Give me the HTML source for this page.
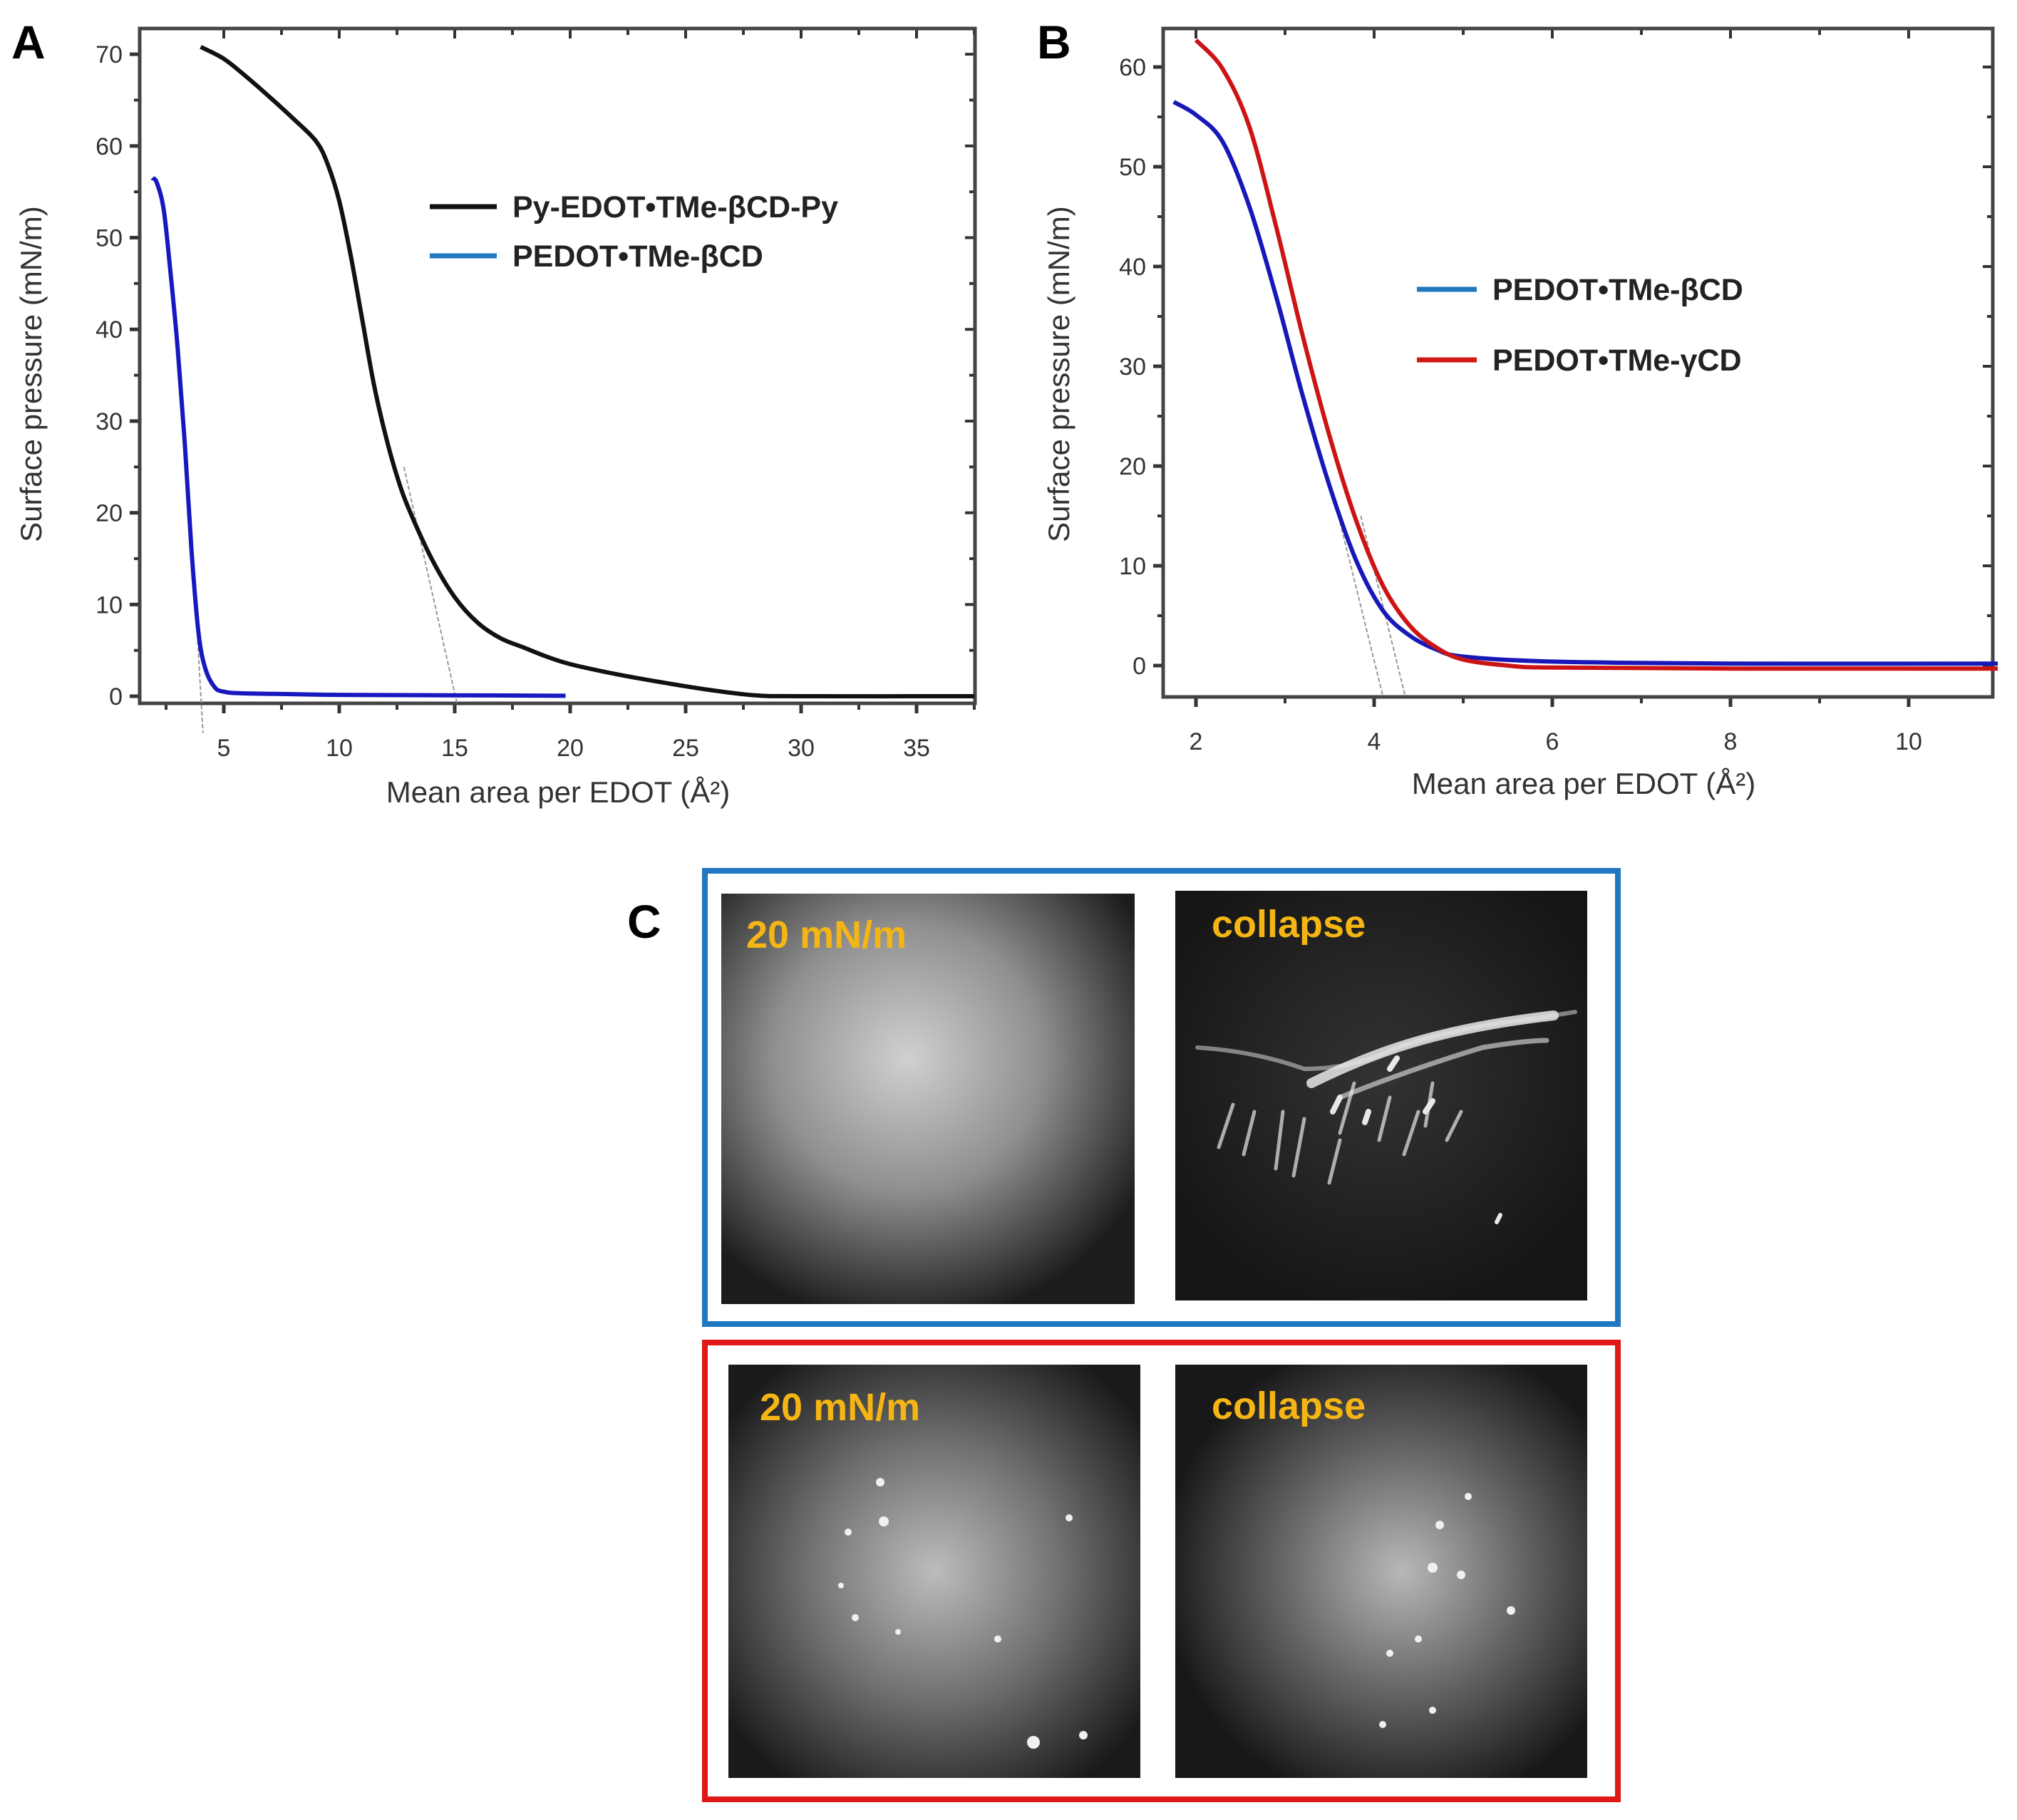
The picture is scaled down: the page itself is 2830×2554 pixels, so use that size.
<!DOCTYPE html>
<html><head><meta charset="utf-8">
<style>
html,body{margin:0;padding:0;background:#fff;}
svg{display:block;font-family:"Liberation Sans",Arial,sans-serif;}
</style></head>
<body>
<svg id="fig" width="2830" height="2554" viewBox="0 0 2830 2554" xmlns="http://www.w3.org/2000/svg">
<defs>
<radialGradient id="g1" cx="0.45" cy="0.4" r="0.65"><stop offset="0" stop-color="#d0d0d0"/><stop offset="0.5" stop-color="#8f8f8f"/><stop offset="1" stop-color="#1c1c1c"/></radialGradient>
<radialGradient id="g2" cx="0.5" cy="0.45" r="0.6"><stop offset="0" stop-color="#333"/><stop offset="1" stop-color="#151515"/></radialGradient>
<radialGradient id="g3" cx="0.5" cy="0.5" r="0.62"><stop offset="0" stop-color="#bcbcbc"/><stop offset="0.5" stop-color="#707070"/><stop offset="1" stop-color="#1a1a1a"/></radialGradient>
<radialGradient id="g4" cx="0.55" cy="0.5" r="0.58"><stop offset="0" stop-color="#b8b8b8"/><stop offset="0.5" stop-color="#666"/><stop offset="1" stop-color="#181818"/></radialGradient>
</defs>
<g id="panelA"></g>
<g id="panelB"></g>
<text x="16" y="82" font-size="66" font-weight="bold">A</text>
<text x="1455" y="82" font-size="66" font-weight="bold">B</text>
<text x="880" y="1316" font-size="66" font-weight="bold">C</text>

<g>
<rect x="989" y="1222" width="1281" height="636" fill="none" stroke="#1f78c0" stroke-width="8"/>
<rect x="989" y="1884" width="1281" height="641" fill="none" stroke="#e01818" stroke-width="8"/>
<rect x="1012" y="1254" width="580" height="576" fill="url(#g1)"/>
<rect x="1649" y="1250" width="578" height="575" fill="url(#g2)"/>
<g stroke="#e8e8e8" stroke-linecap="round" fill="none">
<path d="M1680 1470 Q1760 1475 1830 1500 Q1900 1500 1960 1470 Q2050 1440 2150 1430 Q2180 1425 2210 1420" stroke-width="6" opacity="0.5"/>
<path d="M1840 1520 Q1900 1490 1960 1470 Q2050 1440 2180 1425" stroke-width="14" opacity="0.85"/>
<path d="M1880 1540 Q1980 1500 2080 1470 Q2140 1460 2170 1460" stroke-width="7" opacity="0.6"/>
<path d="M1730 1550 L1710 1610 M1760 1560 L1745 1620 M1800 1560 L1790 1640 M1830 1570 L1815 1650 M1880 1600 L1865 1660 M1900 1520 L1880 1590 M1950 1540 L1935 1600 M1990 1560 L1970 1620 M2010 1520 L2000 1580 M2050 1560 L2030 1600" stroke-width="5" opacity="0.7"/>
<path d="M1880 1540 L1870 1560 M1920 1560 L1915 1575 M1950 1500 L1960 1485 M2000 1560 L2010 1545" stroke-width="8"/>
<path d="M2100 1715 L2105 1705" stroke-width="6"/>
</g>
<rect x="1022" y="1915" width="578" height="580" fill="url(#g3)"/>
<rect x="1649" y="1915" width="578" height="580" fill="url(#g4)"/>
<g fill="#f0f0f0">
<circle cx="1235" cy="2080" r="6"/><circle cx="1190" cy="2150" r="5"/><circle cx="1240" cy="2135" r="7"/><circle cx="1200" cy="2270" r="5"/><circle cx="1450" cy="2445" r="9"/><circle cx="1520" cy="2435" r="6"/><circle cx="1500" cy="2130" r="5"/><circle cx="1400" cy="2300" r="5"/><circle cx="1180" cy="2225" r="4"/><circle cx="1260" cy="2290" r="4"/>
<circle cx="2020" cy="2140" r="6"/><circle cx="2010" cy="2200" r="7"/><circle cx="2120" cy="2260" r="6"/><circle cx="1950" cy="2320" r="5"/><circle cx="1940" cy="2420" r="5"/><circle cx="2010" cy="2400" r="5"/><circle cx="1990" cy="2300" r="5"/><circle cx="2050" cy="2210" r="6"/><circle cx="2060" cy="2100" r="5"/>
</g>
<g font-size="54" font-weight="bold" fill="#f5b514">
<text x="1047" y="1330">20 mN/m</text>
<text x="1700" y="1315">collapse</text>
<text x="1066" y="1993">20 mN/m</text>
<text x="1700" y="1991">collapse</text>
</g>
</g>
</svg>
<script>
// Panel A data
const aBlackX=[4,5,6,7,8,9,9.5,10,10.5,11,11.5,12,12.5,13,14,15,16,17,18,19,20,22,24,26,28,30,37.5];
const aBlackY=[70.8,69.5,67.5,65.3,63,60.5,58,54,48,41,34,28.5,24,20.5,15,10.8,8,6.3,5.3,4.3,3.5,2.4,1.5,0.7,0.1,0,0];
const aBlueX=[1.9,2.1,2.4,2.7,3,3.3,3.6,3.9,4.2,4.6,5,6,10,15,19.8];
const aBlueY=[56.5,56,53,46,38,28,16,7,3,1,0.5,0.3,0.15,0.1,0.05];
const aXTicks=[5,10,15,20,25,30,35];
const aYTicks=[0,10,20,30,40,50,60,70];
// Panel B data
const bBlueX=[1.75,2,2.3,2.6,2.9,3.2,3.5,3.8,4.1,4.4,4.7,5,6,8,11];
const bBlueY=[56.5,55.2,52.5,46,37,27,18,10.5,5.5,3,1.6,0.9,0.4,0.2,0.2];
const bRedX=[2,2.3,2.6,2.9,3.2,3.5,3.8,4.1,4.4,4.7,5,5.5,6,8,11];
const bRedY=[62.7,59.8,54,44,33,23,14.5,8,4,1.8,0.6,0,-0.2,-0.3,-0.3];
const bXTicks=[2,4,6,8,10];
const bYTicks=[0,10,20,30,40,50,60];

const NS='http://www.w3.org/2000/svg';
function mk(parent,tag,attrs){const e=document.createElementNS(NS,tag);for(const k in attrs)e.setAttribute(k,attrs[k]);parent.appendChild(e);return e;}
function smoothPath(xs,ys,sx,sy){
  const p=xs.map((x,i)=>[sx(x),sy(ys[i])]);
  let d='M'+p[0][0].toFixed(1)+' '+p[0][1].toFixed(1);
  for(let i=0;i<p.length-1;i++){
    const p0=p[i-1]||p[i],p1=p[i],p2=p[i+1],p3=p[i+2]||p[i+1];
    const c1=[p1[0]+(p2[0]-p0[0])/6,p1[1]+(p2[1]-p0[1])/6];
    const c2=[p2[0]-(p3[0]-p1[0])/6,p2[1]-(p3[1]-p1[1])/6];
    d+=' C'+c1.map(v=>v.toFixed(1)).join(' ')+' '+c2.map(v=>v.toFixed(1)).join(' ')+' '+p2.map(v=>v.toFixed(1)).join(' ');
  }
  return d;
}

function panel(g,cfg){
  const sx=v=>cfg.x0px+(v-cfg.x0)*cfg.xs, sy=v=>cfg.y0px-v*cfg.ys;
  const L=cfg.L,R=cfg.R,T=cfg.T,B=cfg.B;
  cfg.xTicks.forEach(t=>{
    const x=sx(t);
    const tk=mk(g,'line',{x1:x,y1:B,x2:x,y2:B+14,stroke:'#333','stroke-width':5});
    
    
    mk(g,'line',{x1:x,y1:T,x2:x,y2:T+14,stroke:'#333','stroke-width':4});
    const lb=mk(g,'text',{x:x,y:B+74,'font-size':34,'text-anchor':'middle',fill:'#333'});
    lb.textContent=t;
    
    
    const m=t+cfg.xMinor;
    if(sx(m)<R){mk(g,'line',{x1:sx(m),y1:B,x2:sx(m),y2:B+9,stroke:'#333','stroke-width':4});mk(g,'line',{x1:sx(m),y1:T,x2:sx(m),y2:T+9,stroke:'#333','stroke-width':4});}
    const m2=t-cfg.xMinor;
    if(sx(m2)>L){mk(g,'line',{x1:sx(m2),y1:B,x2:sx(m2),y2:B+9,stroke:'#333','stroke-width':4});}
  });
  cfg.yTicks.forEach(t=>{
    const y=sy(t);
    const tk=mk(g,'line',{x1:L-14,y1:y,x2:L,y2:y,stroke:'#333','stroke-width':5});
    
    
    mk(g,'line',{x1:R-14,y1:y,x2:R,y2:y,stroke:'#333','stroke-width':4});
    const m=sy(t+5);
    if(m>T){mk(g,'line',{x1:L-8,y1:m,x2:L,y2:m,stroke:'#333','stroke-width':4});mk(g,'line',{x1:R-8,y1:m,x2:R,y2:m,stroke:'#333','stroke-width':4});}
    const lb=mk(g,'text',{x:L-24,y:y+12,'font-size':34,'text-anchor':'end',fill:'#333'});
    lb.textContent=t;
    
    
  });
  const fr=mk(g,'rect',{x:L,y:T,width:R-L,height:B-T,fill:'none',stroke:'#444','stroke-width':5});
  
  
  cfg.tangents.forEach(tn=>{
    const t=mk(g,'line',{x1:sx(tn[0]),y1:sy(tn[1]),x2:sx(tn[2]),y2:sy(tn[3]),stroke:'#999','stroke-width':2,'stroke-dasharray':'6 3'});
    
    
  });
  cfg.series.forEach(s=>{
    const p=mk(g,'path',{d:smoothPath(s.x,s.y,sx,sy),fill:'none',stroke:s.color,'stroke-width':6,'stroke-linejoin':'round'});
    
    
  });
  cfg.legend.forEach(l=>{
    const ln=mk(g,'line',{x1:l.x,y1:l.y,x2:l.x+l.w,y2:l.y,stroke:l.color,'stroke-width':7});
    
    
    const tx=mk(g,'text',{x:l.x+l.w+22,y:l.y+15,'font-size':43,'font-weight':'bold',fill:'#222'});
    tx.textContent=l.text;
    
    
  });
  const xl=mk(g,'text',{x:cfg.xlx,y:cfg.xly,'font-size':42,'text-anchor':'middle',fill:'#333'});
  xl.textContent='Mean area per EDOT (Å²)';
  
  
  const yl=mk(g,'text',{x:0,y:0,'font-size':42,'text-anchor':'middle',fill:'#333',transform:`translate(${cfg.ylx},${cfg.yly}) rotate(-90)`});
  yl.textContent='Surface pressure (mN/m)';
  
  
}

panel(document.getElementById('panelA'),{
  L:196,R:1368,T:40,B:987,x0:5,x0px:314,xs:32.4,y0px:977,ys:12.87,
  xTicks:aXTicks,yTicks:aYTicks,xMinor:2.5,
  tangents:[[3.55,20,4.1,-4],[12.8,25,15.1,-0.8]],
  series:[{x:aBlackX,y:aBlackY,color:'#111',name:'series-py-edot'},{x:aBlueX,y:aBlueY,color:'#1818c0',name:'series-pedot-beta-a'}],
  legend:[{x:603,y:290,w:94,color:'#111',text:'Py-EDOT•TMe-βCD-Py'},{x:603,y:359,w:94,color:'#1f78c0',text:'PEDOT•TMe-βCD'}],
  xlx:783,xly:1126,ylx:58,yly:525
});
panel(document.getElementById('panelB'),{
  L:1632,R:2796,T:40,B:978,x0:2,x0px:1678,xs:125,y0px:934,ys:14,
  xTicks:bXTicks,yTicks:bYTicks,xMinor:1,
  tangents:[[3.6,15,4.1,-3.1],[3.85,15,4.35,-3.1]],
  series:[{x:bBlueX,y:bBlueY,color:'#1818b8',name:'series-pedot-beta-b'},{x:bRedX,y:bRedY,color:'#cc1414',name:'series-pedot-gamma'}],
  legend:[{x:1988,y:406,w:84,color:'#1f78c0',text:'PEDOT•TMe-βCD'},{x:1988,y:505,w:84,color:'#d01818',text:'PEDOT•TMe-γCD'}],
  xlx:2222,xly:1114,ylx:1500,yly:525
});
</script>
</body></html>
